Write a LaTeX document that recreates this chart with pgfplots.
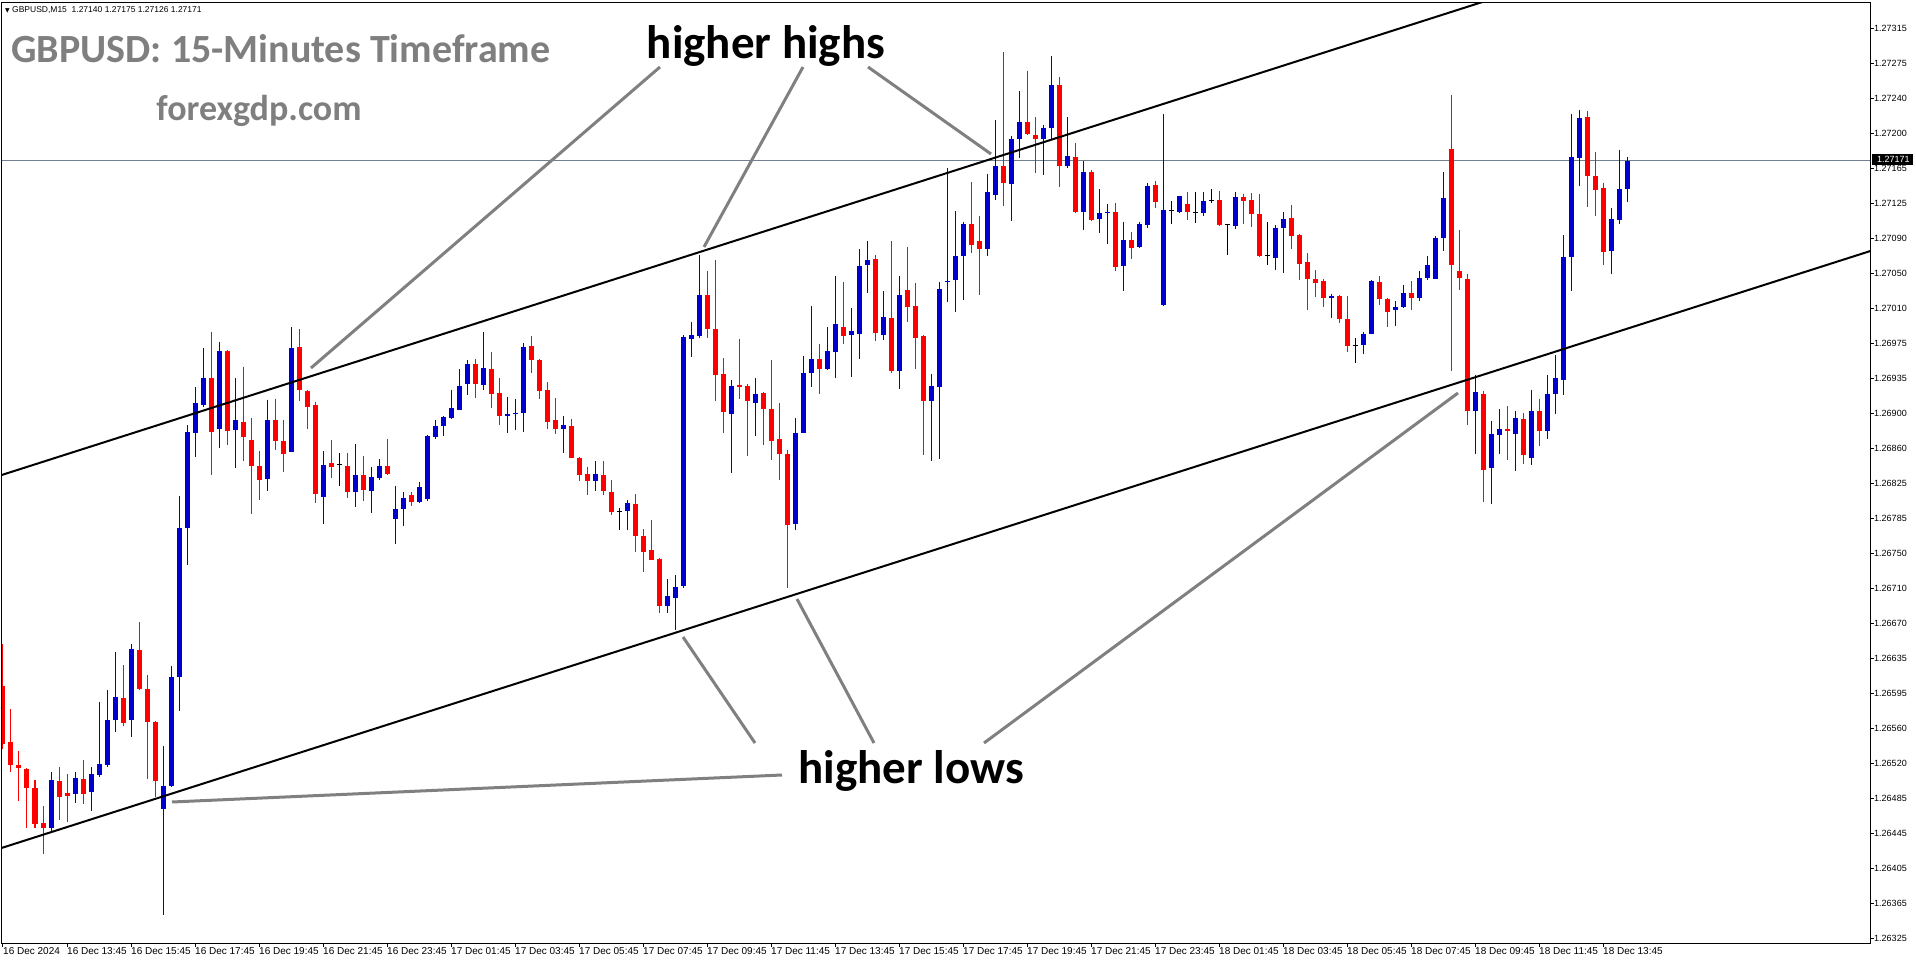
\documentclass[border=0pt]{standalone}
\usepackage{fontspec}
\setmainfont{Liberation Sans}
\newfontfamily\calibri{Carlito}
\newfontfamily\dejavu{DejaVu Sans}
\usepackage{pgfplots}
\usepackage{pgfplotstable}
\pgfplotsset{compat=1.18}

\definecolor{mtblue}{RGB}{0,0,205}
\definecolor{mtred}{RGB}{255,0,0}
\definecolor{pricegray}{RGB}{112,128,144}
\definecolor{notegray}{RGB}{128,128,128}
\definecolor{titlegray}{RGB}{127,127,127}

% GBPUSD M15 candles, k = bar index (0 = 16 Dec 11:45)
% bullish (blue) bars
\pgfplotstableread{
k o h l c
6 1.26445 1.26506 1.26440 1.26497
9 1.26482 1.26506 1.26472 1.26499
11 1.26484 1.26511 1.26463 1.26504
12 1.26503 1.26582 1.26501 1.26515
13 1.26513 1.26595 1.26511 1.26563
14 1.26563 1.26636 1.26549 1.26588
16 1.26562 1.26645 1.26544 1.26640
20 1.26466 1.26534 1.26350 1.26491
21 1.26491 1.26621 1.26490 1.26609
22 1.26609 1.26806 1.26572 1.26771
23 1.26771 1.26883 1.26731 1.26876
24 1.26875 1.26925 1.26849 1.26907
25 1.26905 1.26967 1.26903 1.26934
27 1.26879 1.26974 1.26858 1.26964
29 1.26878 1.26934 1.26837 1.26889
33 1.26825 1.26911 1.26812 1.26889
36 1.26854 1.26990 1.26854 1.26967
40 1.26805 1.26855 1.26776 1.26840
44 1.26810 1.26863 1.26794 1.26829
46 1.26812 1.26838 1.26788 1.26827
47 1.26826 1.26846 1.26824 1.26839
49 1.26781 1.26817 1.26754 1.26792
50 1.26792 1.26811 1.26774 1.26804
52 1.26800 1.26821 1.26799 1.26816
53 1.26803 1.26872 1.26801 1.26871
54 1.26870 1.26889 1.26868 1.26882
55 1.26882 1.26893 1.26871 1.26892
56 1.26891 1.26922 1.26890 1.26902
57 1.26900 1.26944 1.26900 1.26926
58 1.26928 1.26954 1.26916 1.26950
60 1.26927 1.26985 1.26921 1.26945
63 1.26893 1.26914 1.26875 1.26895
64 1.26895 1.26912 1.26878 1.26897
65 1.26896 1.26973 1.26876 1.26968
70 1.26879 1.26893 1.26853 1.26883
74 1.26823 1.26844 1.26812 1.26830
78 1.26790 1.26802 1.26769 1.26799
83 1.26687 1.26716 1.26679 1.26697
84 1.26695 1.26720 1.26660 1.26707
85 1.26708 1.26981 1.26706 1.26979
86 1.26977 1.26996 1.26957 1.26981
87 1.26980 1.27068 1.26978 1.27025
91 1.26895 1.26932 1.26831 1.26926
94 1.26907 1.26934 1.26871 1.26917
99 1.26776 1.26891 1.26769 1.26875
100 1.26875 1.26959 1.26875 1.26940
101 1.26940 1.27013 1.26925 1.26955
103 1.26944 1.26990 1.26943 1.26964
104 1.26963 1.27045 1.26934 1.26993
106 1.26981 1.27011 1.26936 1.26986
107 1.26982 1.27075 1.26955 1.27056
108 1.27057 1.27084 1.27027 1.27063
110 1.26981 1.27029 1.26976 1.27001
112 1.26942 1.27046 1.26923 1.27025
116 1.26910 1.26939 1.26844 1.26926
117 1.26925 1.27039 1.26846 1.27031
119 1.27041 1.27116 1.27006 1.27067
120 1.27067 1.27104 1.27019 1.27102
123 1.27075 1.27157 1.27067 1.27137
124 1.27134 1.27215 1.27128 1.27165
126 1.27146 1.27198 1.27105 1.27195
127 1.27195 1.27247 1.27174 1.27213
130 1.27195 1.27210 1.27155 1.27207
131 1.27206 1.27285 1.27195 1.27253
133 1.27165 1.27218 1.27163 1.27176
135 1.27115 1.27171 1.27095 1.27159
137 1.27108 1.27140 1.27092 1.27114
140 1.27056 1.27104 1.27029 1.27085
142 1.27077 1.27104 1.27076 1.27102
143 1.27101 1.27147 1.27098 1.27143
145 1.27014 1.27222 1.27013 1.27117
147 1.27115 1.27133 1.27114 1.27132
150 1.27114 1.27137 1.27111 1.27127
154 1.27100 1.27137 1.27097 1.27131
159 1.27065 1.27101 1.27052 1.27098
160 1.27098 1.27115 1.27049 1.27108
166 1.27022 1.27026 1.27000 1.27024
170 1.26970 1.26985 1.26961 1.26982
171 1.26982 1.27041 1.26982 1.27040
174 1.27009 1.27018 1.26991 1.27012
175 1.27012 1.27036 1.27011 1.27027
177 1.27022 1.27051 1.27018 1.27043
178 1.27043 1.27067 1.27041 1.27057
179 1.27042 1.27089 1.27042 1.27087
180 1.27087 1.27159 1.27073 1.27130
184 1.26899 1.26938 1.26852 1.26919
186 1.26837 1.26888 1.26797 1.26874
187 1.26873 1.26901 1.26852 1.26879
189 1.26874 1.26899 1.26833 1.26891
191 1.26848 1.26922 1.26840 1.26899
193 1.26877 1.26938 1.26868 1.26917
194 1.26917 1.26960 1.26895 1.26934
195 1.26932 1.27090 1.26916 1.27066
196 1.27066 1.27222 1.27029 1.27175
197 1.27174 1.27226 1.27143 1.27217
201 1.27073 1.27120 1.27048 1.27107
202 1.27106 1.27183 1.27102 1.27140
203 1.27140 1.27175 1.27126 1.27171
}\upT

% bearish (red) bars
\pgfplotstableread{
k o h l c
0 1.26599 1.26645 1.26531 1.26536
1 1.26539 1.26574 1.26506 1.26514
2 1.26514 1.26529 1.26474 1.26510
3 1.26509 1.26510 1.26445 1.26489
4 1.26489 1.26497 1.26445 1.26449
5 1.26450 1.26469 1.26417 1.26445
7 1.26496 1.26511 1.26454 1.26479
8 1.26483 1.26504 1.26452 1.26480
10 1.26498 1.26519 1.26471 1.26482
15 1.26586 1.26622 1.26556 1.26559
17 1.26639 1.26669 1.26595 1.26596
18 1.26596 1.26611 1.26498 1.26560
19 1.26560 1.26561 1.26479 1.26496
26 1.26935 1.26985 1.26829 1.26876
28 1.26964 1.26965 1.26862 1.26877
30 1.26887 1.26947 1.26844 1.26870
31 1.26867 1.26891 1.26787 1.26839
32 1.26839 1.26855 1.26802 1.26824
34 1.26889 1.26912 1.26856 1.26866
35 1.26866 1.26889 1.26832 1.26852
37 1.26968 1.26988 1.26909 1.26921
38 1.26920 1.26921 1.26879 1.26903
39 1.26905 1.26908 1.26799 1.26808
41 1.26842 1.26867 1.26826 1.26838
43 1.26839 1.26853 1.26804 1.26811
45 1.26829 1.26850 1.26801 1.26813
48 1.26839 1.26868 1.26829 1.26830
51 1.26807 1.26810 1.26795 1.26800
59 1.26950 1.26955 1.26913 1.26928
61 1.26944 1.26963 1.26902 1.26917
62 1.26918 1.26935 1.26883 1.26893
66 1.26969 1.26980 1.26940 1.26954
67 1.26954 1.26955 1.26912 1.26920
68 1.26921 1.26930 1.26879 1.26887
69 1.26889 1.26913 1.26874 1.26879
71 1.26882 1.26890 1.26847 1.26847
72 1.26848 1.26849 1.26822 1.26829
73 1.26830 1.26838 1.26807 1.26823
75 1.26829 1.26844 1.26807 1.26812
76 1.26811 1.26824 1.26786 1.26789
79 1.26798 1.26808 1.26745 1.26763
80 1.26763 1.26770 1.26724 1.26745
81 1.26747 1.26780 1.26737 1.26737
82 1.26738 1.26739 1.26679 1.26687
88 1.27025 1.27051 1.26978 1.26988
89 1.26988 1.27063 1.26910 1.26938
90 1.26939 1.26956 1.26875 1.26897
92 1.26927 1.26977 1.26912 1.26925
93 1.26926 1.26928 1.26850 1.26909
95 1.26918 1.26919 1.26862 1.26901
96 1.26901 1.26954 1.26845 1.26866
97 1.26868 1.26907 1.26824 1.26852
98 1.26852 1.26856 1.26706 1.26775
102 1.26955 1.26971 1.26917 1.26944
105 1.26990 1.27039 1.26972 1.26980
109 1.27064 1.27068 1.26975 1.26984
111 1.27000 1.27084 1.26940 1.26942
113 1.27030 1.27077 1.26996 1.27012
114 1.27013 1.27038 1.26944 1.26978
115 1.26980 1.26981 1.26851 1.26909
121 1.27102 1.27148 1.27071 1.27079
122 1.27084 1.27111 1.27025 1.27075
125 1.27165 1.27289 1.27122 1.27147
128 1.27213 1.27269 1.27199 1.27200
129 1.27199 1.27218 1.27158 1.27194
132 1.27253 1.27262 1.27142 1.27165
134 1.27175 1.27190 1.27114 1.27115
136 1.27159 1.27161 1.27105 1.27106
139 1.27115 1.27125 1.27051 1.27055
141 1.27085 1.27093 1.27064 1.27076
144 1.27144 1.27149 1.27120 1.27126
148 1.27124 1.27137 1.27106 1.27115
152 1.27128 1.27138 1.27100 1.27101
155 1.27131 1.27135 1.27102 1.27127
156 1.27128 1.27136 1.27099 1.27113
157 1.27113 1.27135 1.27066 1.27067
161 1.27109 1.27123 1.27075 1.27089
162 1.27090 1.27091 1.27041 1.27059
163 1.27061 1.27070 1.27009 1.27042
164 1.27042 1.27052 1.27023 1.27038
165 1.27040 1.27042 1.27012 1.27022
167 1.27024 1.27025 1.26994 1.26999
168 1.26999 1.27024 1.26963 1.26969
172 1.27039 1.27045 1.27014 1.27021
173 1.27021 1.27022 1.26990 1.27006
176 1.27027 1.27040 1.27008 1.27022
181 1.27184 1.27242 1.26942 1.27057
182 1.27051 1.27096 1.27030 1.27043
183 1.27042 1.27048 1.26883 1.26899
185 1.26917 1.26920 1.26800 1.26834
188 1.26879 1.26904 1.26845 1.26877
190 1.26890 1.26896 1.26841 1.26851
192 1.26899 1.26912 1.26861 1.26877
198 1.27218 1.27225 1.27121 1.27154
199 1.27154 1.27180 1.27111 1.27139
200 1.27141 1.27147 1.27058 1.27072
}\downT

% doji bars (open = close)
\pgfplotstableread{
k o h l c
42 1.26840 1.26853 1.26817 1.26840
77 1.26789 1.26793 1.26769 1.26789
146 1.27117 1.27127 1.27102 1.27117
149 1.27115 1.27137 1.27103 1.27115
151 1.27128 1.27140 1.27125 1.27128
153 1.27101 1.27102 1.27068 1.27101
158 1.27068 1.27104 1.27057 1.27068
169 1.26970 1.26978 1.26951 1.26970
}\dojiK

\pgfplotstableread{
k o h l c
118 1.27039 1.27163 1.27017 1.27039
138 1.27115 1.27124 1.27080 1.27115
}\dojiB

\pgfplotsset{
  wick/.style={only marks, mark=text, text mark={},
    error bars/y dir=minus, error bars/y explicit, error bars/error mark=none,
    error bars/error bar style={line width=1pt}},
  body/.style={only marks, mark=text, text mark={},
    error bars/y dir=minus, error bars/y explicit, error bars/error mark=none,
    error bars/error bar style={line width=5pt}},
}

\begin{document}
\begin{tikzpicture}
\begin{axis}[
  at={(2pt,21pt)}, anchor=south west,
  scale only axis, width=1868pt, height=940pt,
  xmin=-0.125, xmax=233.375,
  ymin=1.263199, ymax=1.273425,
  axis line style={black, line width=1pt},
  xtick={0,8,...,200},
  xticklabels={16 Dec 2024,16 Dec 13:45,16 Dec 15:45,16 Dec 17:45,16 Dec 19:45,16 Dec 21:45,16 Dec 23:45,17 Dec 01:45,17 Dec 03:45,17 Dec 05:45,17 Dec 07:45,17 Dec 09:45,17 Dec 11:45,17 Dec 13:45,17 Dec 15:45,17 Dec 17:45,17 Dec 19:45,17 Dec 21:45,17 Dec 23:45,18 Dec 01:45,18 Dec 03:45,18 Dec 05:45,18 Dec 07:45,18 Dec 09:45,18 Dec 11:45,18 Dec 13:45},
  ytick={1.263250,1.263631,1.264012,1.264392,1.264773,1.265154,1.265535,1.265915,1.266296,1.266677,1.267058,1.267438,1.267819,1.268200,1.268581,1.268962,1.269342,1.269723,1.270104,1.270485,1.270865,1.271246,1.271627,1.272008,1.272388,1.272769,1.273150},
  yticklabels={1.26325,1.26365,1.26405,1.26445,1.26485,1.26520,1.26560,1.26595,1.26635,1.26670,1.26710,1.26750,1.26785,1.26825,1.26860,1.26900,1.26935,1.26975,1.27010,1.27050,1.27090,1.27125,1.27165,1.27200,1.27240,1.27275,1.27315},
  scaled y ticks=false,
  xtick pos=left, ytick pos=right, yticklabel pos=right,
  tick align=outside, major tick length=4pt,
  tick style={black, line width=1pt},
  xticklabel style={font=\fontsize{10}{12}\selectfont, anchor=north west, inner sep=0pt},
  yticklabel style={font=\fontsize{9}{11}\selectfont, anchor=west, inner sep=0pt},
]
% current bid line
\addplot[pricegray, line width=1pt] coordinates {(-1,1.27171) (240,1.27171)};

% wicks
\addplot[mtblue, wick] table[x=k, y=h, y error minus expr={\thisrow{h}-\thisrow{l}}] {\upT};
\addplot[mtred, wick] table[x=k, y=h, y error minus expr={\thisrow{h}-\thisrow{l}}] {\downT};
\addplot[black, wick] table[x=k, y=h, y error minus expr={\thisrow{h}-\thisrow{l}}] {\dojiK};
\addplot[mtblue, wick] table[x=k, y=h, y error minus expr={\thisrow{h}-\thisrow{l}}] {\dojiB};
% bodies
\addplot[mtblue, body] table[x=k, y=c, y error minus expr={\thisrow{c}-\thisrow{o}}] {\upT};
\addplot[mtred, body] table[x=k, y=o, y error minus expr={\thisrow{o}-\thisrow{c}}] {\downT};
\addplot[black, only marks, mark=-, mark size=2.5pt, mark options={line width=1pt}] table[x=k, y=o] {\dojiK};
\addplot[mtblue, only marks, mark=-, mark size=2.5pt, mark options={line width=1pt}] table[x=k, y=o] {\dojiB};

% channel
\addplot[black, line width=2pt] coordinates {(-1,1.268267) (234,1.274800)};
\addplot[black, line width=2pt] coordinates {(-1,1.264210) (234,1.270743)};
\end{axis}

% pointer lines
\begin{scope}[notegray, line width=3pt]
\draw (660pt,897pt) -- (311pt,596pt);
\draw (803pt,897pt) -- (704pt,717pt);
\draw (868pt,897pt) -- (991pt,810pt);
\draw (782pt,189pt) -- (172pt,162pt);
\draw (755pt,221pt) -- (683pt,327pt);
\draw (874pt,221pt) -- (797pt,365pt);
\draw (984pt,221pt) -- (1458pt,571pt);
\end{scope}

\node[font=\calibri\bfseries\fontsize{47}{56}\selectfont] at (766pt,918pt) {higher highs};
\node[font=\calibri\bfseries\fontsize{47}{56}\selectfont] at (911pt,193pt) {higher lows};
\node[font=\calibri\bfseries\fontsize{40}{48}\selectfont, text=titlegray] at (281pt,915pt) {GBPUSD: 15-Minutes Timeframe};
\node[font=\calibri\bfseries\fontsize{36}{43}\selectfont, text=titlegray] at (259pt,853pt) {forexgdp.com};
\node[font=\fontsize{8.5}{10}\selectfont, anchor=west, inner sep=0pt] at (5pt,954pt) {{\dejavu\fontsize{6}{7}\selectfont ▼} GBPUSD,M15\ \ 1.27140 1.27175 1.27126 1.27171};

% last price box
\fill[black] (1872pt,799pt) rectangle (1913pt,810pt);
\node[font=\fontsize{9}{11}\selectfont, text=white, anchor=west, inner sep=0pt] at (1877pt,804.5pt) {1.27171};

\pgfresetboundingbox
\path[use as bounding box] (0,0) rectangle (1916pt,964pt);
\end{tikzpicture}
\end{document}
